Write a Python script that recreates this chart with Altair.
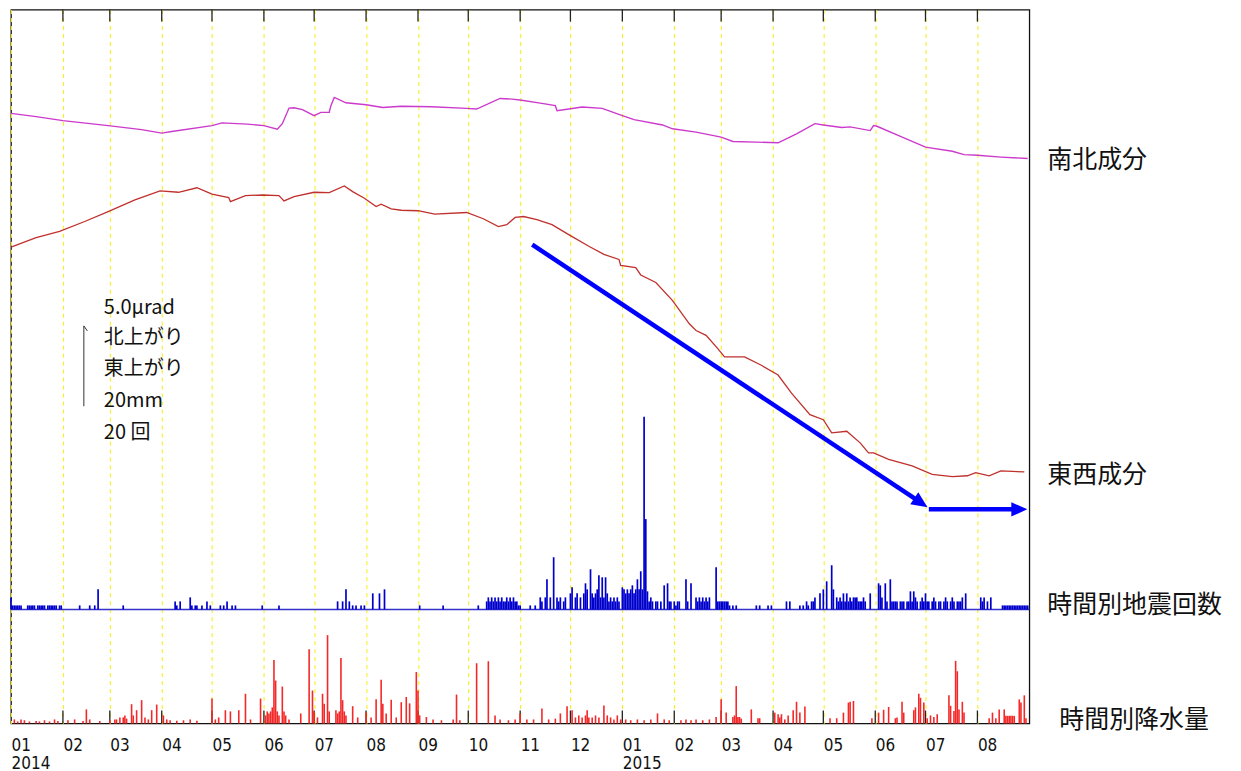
import altair as alt
import pandas as pd

# ---------------- data ----------------
# tilt, relative to 2014-01-01 (micro-radian)
NS_TILT = [
    ("2014-01-01", 0.00), ("2014-01-16", -0.20), ("2014-02-01", -0.45), ("2014-02-28", -0.76),
    ("2014-03-20", -1.01), ("2014-04-01", -1.23), ("2014-04-07", -1.13), ("2014-05-01", -0.76),
    ("2014-05-07", -0.59), ("2014-05-22", -0.67), ("2014-06-01", -0.76), ("2014-06-09", -0.98),
    ("2014-06-12", -0.64), ("2014-06-16", 0.33), ("2014-06-19", 0.35), ("2014-06-24", 0.23),
    ("2014-07-01", -0.14), ("2014-07-05", 0.06), ("2014-07-10", 0.07), ("2014-07-11", 0.48),
    ("2014-07-13", 0.99), ("2014-07-20", 0.66), ("2014-08-01", 0.54), ("2014-08-11", 0.37),
    ("2014-08-22", 0.44), ("2014-09-09", 0.41), ("2014-09-30", 0.31), ("2014-10-06", 0.27),
    ("2014-10-20", 0.93), ("2014-10-27", 0.89), ("2014-11-01", 0.83), ("2014-11-13", 0.64),
    ("2014-11-22", 0.48), ("2014-11-23", 0.17), ("2014-11-30", 0.27), ("2014-12-08", 0.40),
    ("2014-12-20", 0.31), ("2015-01-01", -0.14), ("2015-01-08", -0.39), ("2015-01-25", -0.72),
    ("2015-01-31", -0.96), ("2015-02-14", -1.17), ("2015-03-01", -1.48), ("2015-03-08", -1.75),
    ("2015-03-22", -1.79), ("2015-04-04", -1.83), ("2015-04-15", -1.27), ("2015-04-26", -0.64),
    ("2015-05-01", -0.72), ("2015-05-12", -0.88), ("2015-05-17", -0.84), ("2015-05-29", -1.07),
    ("2015-05-31", -0.76), ("2015-06-02", -0.80), ("2015-06-15", -1.38), ("2015-07-01", -2.10),
    ("2015-07-17", -2.36), ("2015-07-24", -2.57), ("2015-08-01", -2.61), ("2015-08-15", -2.72),
    ("2015-08-31", -2.81),
]
EW_TILT = [
    ("2014-01-01", 0.00), ("2014-01-16", 0.60), ("2014-01-30", 0.99), ("2014-02-14", 1.60),
    ("2014-02-28", 2.22), ("2014-03-16", 2.94), ("2014-03-31", 3.50), ("2014-04-11", 3.42),
    ("2014-04-22", 3.70), ("2014-05-01", 3.30), ("2014-05-11", 3.09), ("2014-05-12", 2.84),
    ("2014-05-21", 3.21), ("2014-05-31", 3.25), ("2014-06-10", 3.21), ("2014-06-13", 2.88),
    ("2014-06-19", 3.15), ("2014-07-01", 3.42), ("2014-07-10", 3.40), ("2014-07-19", 3.81),
    ("2014-07-24", 3.46), ("2014-07-31", 3.05), ("2014-08-07", 2.53), ("2014-08-10", 2.68),
    ("2014-08-16", 2.39), ("2014-08-22", 2.30), ("2014-09-01", 2.27), ("2014-09-11", 2.06),
    ("2014-09-30", 2.16), ("2014-10-10", 1.77), ("2014-10-19", 1.28), ("2014-10-24", 1.40),
    ("2014-10-29", 1.85), ("2014-11-03", 1.91), ("2014-11-11", 1.71), ("2014-11-20", 1.40),
    ("2014-11-30", 0.78), ("2014-12-12", 0.06), ("2014-12-21", -0.45), ("2014-12-30", -0.76),
    ("2014-12-31", -1.13), ("2015-01-09", -1.27), ("2015-01-12", -1.73), ("2015-01-21", -2.20),
    ("2015-01-31", -3.33), ("2015-02-10", -4.77), ("2015-02-14", -5.19), ("2015-02-20", -5.49),
    ("2015-02-27", -6.31), ("2015-03-03", -6.83), ("2015-03-15", -6.83), ("2015-03-25", -7.35),
    ("2015-04-04", -7.96), ("2015-04-12", -9.09), ("2015-04-23", -10.43), ("2015-05-01", -10.74),
    ("2015-05-06", -11.56), ("2015-05-15", -11.46), ("2015-05-23", -12.18), ("2015-05-28", -12.80),
    ("2015-05-31", -12.80), ("2015-06-09", -13.21), ("2015-06-23", -13.62), ("2015-07-05", -14.14),
    ("2015-07-17", -14.28), ("2015-07-26", -14.23), ("2015-07-31", -14.03), ("2015-08-08", -14.23),
    ("2015-08-15", -13.93), ("2015-08-29", -13.99),
]

# earthquakes per hour (peak of each day)
EQ_2014 = [
    ("2014-01-01", 3), ("2014-01-02", 1), ("2014-01-03", 1), ("2014-01-04", 1), ("2014-01-05", 1),
    ("2014-01-06", 1), ("2014-01-07", 1), ("2014-01-11", 1), ("2014-01-12", 1), ("2014-01-13", 1),
    ("2014-01-14", 1), ("2014-01-15", 1), ("2014-01-17", 1), ("2014-01-18", 1), ("2014-01-19", 1),
    ("2014-01-20", 1), ("2014-01-21", 1), ("2014-01-23", 1), ("2014-01-24", 1), ("2014-01-25", 1),
    ("2014-01-26", 1), ("2014-01-27", 1), ("2014-01-28", 1), ("2014-01-30", 1), ("2014-01-31", 1),
    ("2014-02-11", 1), ("2014-02-17", 1), ("2014-02-20", 1), ("2014-02-22", 5), ("2014-03-09", 1),
    ("2014-04-09", 2), ("2014-04-10", 1), ("2014-04-12", 2), ("2014-04-18", 3), ("2014-04-19", 1),
    ("2014-04-21", 1), ("2014-04-22", 1), ("2014-04-25", 1), ("2014-04-28", 2), ("2014-04-30", 1),
    ("2014-05-06", 1), ("2014-05-08", 1), ("2014-05-10", 2), ("2014-05-13", 1), ("2014-05-15", 1),
    ("2014-05-31", 1), ("2014-06-10", 1), ("2014-07-15", 2), ("2014-07-18", 2), ("2014-07-20", 5),
    ("2014-07-22", 2), ("2014-07-24", 1), ("2014-07-26", 1), ("2014-07-29", 1), ("2014-07-31", 1),
    ("2014-08-05", 4), ("2014-08-09", 4), ("2014-08-12", 5), ("2014-09-02", 1), ("2014-09-16", 1),
    ("2014-10-07", 1), ("2014-10-12", 2), ("2014-10-13", 3), ("2014-10-14", 2), ("2014-10-15", 3),
    ("2014-10-16", 2), ("2014-10-17", 3), ("2014-10-18", 2), ("2014-10-19", 3), ("2014-10-20", 2),
    ("2014-10-21", 3), ("2014-10-22", 2), ("2014-10-23", 2), ("2014-10-24", 3), ("2014-10-25", 2),
    ("2014-10-26", 3), ("2014-10-27", 2), ("2014-10-28", 3), ("2014-10-29", 2), ("2014-10-30", 2),
    ("2014-10-31", 1), ("2014-11-01", 1), ("2014-11-07", 1), ("2014-11-10", 1), ("2014-11-13", 3),
    ("2014-11-14", 2), ("2014-11-16", 3), ("2014-11-17", 7.5), ("2014-11-19", 3), ("2014-11-21", 13),
    ("2014-11-23", 3), ("2014-11-24", 2), ("2014-11-25", 3), ("2014-11-27", 2), ("2014-11-28", 3),
    ("2014-12-01", 4), ("2014-12-02", 5.5), ("2014-12-04", 3), ("2014-12-05", 4), ("2014-12-07", 3),
    ("2014-12-09", 4), ("2014-12-10", 6.5), ("2014-12-11", 5), ("2014-12-13", 10), ("2014-12-14", 4),
    ("2014-12-15", 3), ("2014-12-16", 4), ("2014-12-17", 5), ("2014-12-18", 8.5), ("2014-12-19", 3),
    ("2014-12-20", 8), ("2014-12-21", 3), ("2014-12-22", 8), ("2014-12-23", 4), ("2014-12-24", 2),
    ("2014-12-25", 3), ("2014-12-26", 2), ("2014-12-27", 3), ("2014-12-28", 2), ("2014-12-29", 3),
    ("2014-12-30", 2),
]
EQ_2015 = [
    ("2015-01-01", 5.5), ("2015-01-02", 5), ("2015-01-03", 4), ("2015-01-04", 5), ("2015-01-05", 4),
    ("2015-01-06", 5), ("2015-01-07", 6), ("2015-01-08", 4), ("2015-01-09", 5), ("2015-01-10", 7.5),
    ("2015-01-11", 5), ("2015-01-12", 9.5), ("2015-01-13", 5), ("2015-01-14", 48), ("2015-01-15", 22.5),
    ("2015-01-16", 4.5), ("2015-01-17", 2), ("2015-01-18", 3), ("2015-01-19", 2), ("2015-01-21", 2),
    ("2015-01-22", 2), ("2015-01-24", 2), ("2015-01-26", 6), ("2015-01-28", 6.5), ("2015-01-29", 2),
    ("2015-01-30", 2), ("2015-02-01", 2), ("2015-02-02", 1), ("2015-02-03", 2), ("2015-02-04", 2),
    ("2015-02-08", 7.5), ("2015-02-09", 2), ("2015-02-11", 6.5), ("2015-02-14", 3), ("2015-02-15", 2),
    ("2015-02-16", 3), ("2015-02-17", 2), ("2015-02-18", 3), ("2015-02-19", 2), ("2015-02-20", 3),
    ("2015-02-21", 2), ("2015-02-22", 3), ("2015-02-26", 10.5), ("2015-02-27", 2), ("2015-02-28", 2),
    ("2015-03-01", 2), ("2015-03-02", 2), ("2015-03-03", 2), ("2015-03-04", 2), ("2015-03-05", 2),
    ("2015-03-06", 1), ("2015-03-08", 1), ("2015-03-10", 1), ("2015-03-22", 1), ("2015-03-24", 1),
    ("2015-03-29", 1), ("2015-03-31", 1), ("2015-04-09", 2), ("2015-04-11", 2), ("2015-04-17", 1),
    ("2015-04-19", 1), ("2015-04-21", 2), ("2015-04-22", 1), ("2015-04-24", 2), ("2015-04-25", 2),
    ("2015-04-26", 3), ("2015-04-29", 4), ("2015-05-01", 5), ("2015-05-03", 7), ("2015-05-06", 11),
    ("2015-05-07", 5), ("2015-05-09", 3), ("2015-05-10", 2), ("2015-05-11", 3), ("2015-05-12", 2),
    ("2015-05-13", 4), ("2015-05-14", 2), ("2015-05-15", 4), ("2015-05-16", 2), ("2015-05-17", 3),
    ("2015-05-18", 2), ("2015-05-19", 3), ("2015-05-20", 3), ("2015-05-21", 3), ("2015-05-22", 2),
    ("2015-05-23", 2), ("2015-05-24", 2), ("2015-05-25", 3), ("2015-05-26", 2), ("2015-05-29", 4),
    ("2015-06-03", 6.5), ("2015-06-04", 6), ("2015-06-05", 3), ("2015-06-07", 6.5), ("2015-06-08", 2),
    ("2015-06-10", 7.5), ("2015-06-11", 2), ("2015-06-12", 2), ("2015-06-13", 2), ("2015-06-14", 2),
    ("2015-06-16", 2), ("2015-06-17", 2), ("2015-06-18", 2), ("2015-06-20", 2), ("2015-06-21", 2),
    ("2015-06-22", 4.5), ("2015-06-23", 2), ("2015-06-24", 4.5), ("2015-06-25", 3), ("2015-06-26", 2),
    ("2015-06-28", 2), ("2015-06-29", 3), ("2015-06-30", 2), ("2015-07-01", 4), ("2015-07-02", 2),
    ("2015-07-03", 2), ("2015-07-05", 2), ("2015-07-06", 3), ("2015-07-07", 2), ("2015-07-09", 2),
    ("2015-07-10", 2), ("2015-07-12", 2), ("2015-07-13", 3), ("2015-07-14", 2), ("2015-07-16", 2),
    ("2015-07-17", 3), ("2015-07-18", 2), ("2015-07-20", 2), ("2015-07-21", 2), ("2015-07-22", 2),
    ("2015-07-23", 3), ("2015-07-25", 4), ("2015-08-03", 3), ("2015-08-04", 2), ("2015-08-05", 3),
    ("2015-08-07", 2), ("2015-08-09", 3), ("2015-08-16", 1), ("2015-08-17", 1), ("2015-08-18", 1),
    ("2015-08-19", 1), ("2015-08-20", 1), ("2015-08-21", 1), ("2015-08-22", 1), ("2015-08-23", 1),
    ("2015-08-24", 1), ("2015-08-25", 1), ("2015-08-26", 1), ("2015-08-27", 1), ("2015-08-28", 1),
    ("2015-08-29", 1), ("2015-08-30", 1), ("2015-08-31", 1),
]

# hourly rainfall (mm, peak of each day)
RAIN_2014 = [
    ("2014-01-03", 1), ("2014-01-05", 0.5), ("2014-01-07", 1), ("2014-01-09", 0.8), ("2014-01-12", 0.5),
    ("2014-01-16", 0.6), ("2014-01-18", 0.5), ("2014-01-21", 0.8), ("2014-01-24", 0.5), ("2014-01-27", 1),
    ("2014-01-29", 0.6), ("2014-02-04", 0.8), ("2014-02-08", 1), ("2014-02-13", 0.6), ("2014-02-15", 3.5),
    ("2014-02-17", 1), ("2014-02-23", 0.6), ("2014-03-01", 0.8), ("2014-03-04", 1), ("2014-03-05", 1),
    ("2014-03-07", 1.5), ("2014-03-09", 1.5), ("2014-03-10", 2), ("2014-03-11", 1.2), ("2014-03-14", 4.8),
    ("2014-03-15", 2), ("2014-03-17", 3.3), ("2014-03-20", 5.8), ("2014-03-22", 1.5), ("2014-03-24", 1),
    ("2014-03-26", 3.3), ("2014-03-29", 4.7), ("2014-04-02", 2), ("2014-04-04", 1), ("2014-04-06", 0.8),
    ("2014-04-10", 0.7), ("2014-04-14", 0.8), ("2014-04-18", 1), ("2014-04-22", 0.7), ("2014-05-01", 6.2),
    ("2014-05-03", 1), ("2014-05-05", 1.5), ("2014-05-09", 3.3), ("2014-05-12", 3), ("2014-05-17", 3.3),
    ("2014-05-21", 7.4), ("2014-05-24", 1), ("2014-05-30", 6.2), ("2014-06-02", 2), ("2014-06-03", 3),
    ("2014-06-04", 2.5), ("2014-06-05", 3), ("2014-06-06", 4), ("2014-06-07", 15.8), ("2014-06-08", 10.7),
    ("2014-06-09", 3), ("2014-06-10", 2), ("2014-06-12", 9.2), ("2014-06-13", 3), ("2014-06-14", 2),
    ("2014-06-16", 1), ("2014-06-23", 2.5), ("2014-06-28", 18.5), ("2014-06-30", 8.2), ("2014-07-01", 3),
    ("2014-07-03", 1.5), ("2014-07-06", 7.4), ("2014-07-07", 4.9), ("2014-07-09", 22), ("2014-07-10", 3),
    ("2014-07-14", 3.3), ("2014-07-15", 2.5), ("2014-07-16", 3), ("2014-07-17", 16.3), ("2014-07-18", 5.8),
    ("2014-07-19", 3), ("2014-07-20", 2), ("2014-07-24", 4.3), ("2014-07-27", 1.5), ("2014-08-01", 2.8),
    ("2014-08-04", 1.5), ("2014-08-07", 6), ("2014-08-10", 10.9), ("2014-08-11", 4.9), ("2014-08-13", 2.5),
    ("2014-08-16", 5.9), ("2014-08-19", 1.5), ("2014-08-22", 5.3), ("2014-08-25", 6.6), ("2014-08-27", 5),
    ("2014-08-31", 12.8), ("2014-09-01", 8.2), ("2014-09-02", 2), ("2014-09-06", 1.6), ("2014-09-10", 1),
    ("2014-09-15", 0.8), ("2014-09-22", 1), ("2014-09-24", 7.2), ("2014-09-26", 0.8), ("2014-10-06", 15),
    ("2014-10-13", 15.5), ("2014-10-17", 2), ("2014-10-20", 1), ("2014-10-25", 0.8), ("2014-10-29", 1),
    ("2014-11-01", 2.5), ("2014-11-05", 1), ("2014-11-09", 1), ("2014-11-14", 3.7), ("2014-11-18", 1),
    ("2014-11-22", 1.2), ("2014-11-25", 2.5), ("2014-11-29", 4.3), ("2014-12-02", 3.3), ("2014-12-04", 1.5),
    ("2014-12-06", 2), ("2014-12-08", 1.5), ("2014-12-10", 2), ("2014-12-11", 3.3), ("2014-12-12", 1.5),
    ("2014-12-14", 1.5), ("2014-12-16", 2), ("2014-12-18", 1.5), ("2014-12-21", 4.5), ("2014-12-23", 2),
    ("2014-12-25", 1.5), ("2014-12-27", 1), ("2014-12-29", 2), ("2014-12-31", 1),
]
RAIN_2015 = [
    ("2015-01-03", 1), ("2015-01-06", 0.8), ("2015-01-10", 1), ("2015-01-14", 0.8), ("2015-01-18", 1),
    ("2015-01-22", 2.5), ("2015-01-26", 1), ("2015-01-29", 0.8), ("2015-02-05", 0.8), ("2015-02-08", 1),
    ("2015-02-11", 0.8), ("2015-02-14", 1), ("2015-02-18", 0.8), ("2015-02-22", 1), ("2015-02-26", 1.6),
    ("2015-03-01", 6), ("2015-03-04", 2.7), ("2015-03-08", 1.6), ("2015-03-09", 2), ("2015-03-10", 9.3),
    ("2015-03-11", 1.6), ("2015-03-12", 1.6), ("2015-03-13", 1.2), ("2015-03-19", 3.5), ("2015-03-23", 1.3),
    ("2015-03-24", 1.3), ("2015-04-02", 2.7), ("2015-04-04", 2.3), ("2015-04-05", 1.5), ("2015-04-06", 2.3),
    ("2015-04-08", 1), ("2015-04-10", 2), ("2015-04-13", 3.3), ("2015-04-15", 5.4), ("2015-04-17", 2.7),
    ("2015-04-20", 4.2), ("2015-05-05", 1.3), ("2015-05-09", 1.3), ("2015-05-13", 2.7), ("2015-05-16", 5.2),
    ("2015-05-17", 5.4), ("2015-05-19", 5.6), ("2015-05-30", 1.3), ("2015-06-03", 2.7), ("2015-06-06", 3.4),
    ("2015-06-09", 4.1), ("2015-06-13", 1.3), ("2015-06-14", 1.5), ("2015-06-17", 5.4), ("2015-06-18", 2.7),
    ("2015-06-24", 3.3), ("2015-06-25", 4), ("2015-06-27", 7.4), ("2015-06-28", 6.4), ("2015-06-30", 5.2),
    ("2015-07-02", 1.3), ("2015-07-04", 2), ("2015-07-06", 1.6), ("2015-07-08", 2.3), ("2015-07-15", 7),
    ("2015-07-16", 4.4), ("2015-07-18", 3.1), ("2015-07-19", 15.6), ("2015-07-20", 13), ("2015-07-21", 3.5),
    ("2015-07-23", 5.4), ("2015-07-24", 2.7), ("2015-08-08", 1.3), ("2015-08-10", 2.7), ("2015-08-12", 1.3),
    ("2015-08-14", 3.5), ("2015-08-17", 3.5), ("2015-08-18", 1.9), ("2015-08-19", 1.9), ("2015-08-20", 1.9),
    ("2015-08-21", 1.9), ("2015-08-22", 1.9), ("2015-08-23", 1.9), ("2015-08-26", 6), ("2015-08-27", 5.2),
    ("2015-08-29", 7), ("2015-08-30", 1.3),
]

# trend arrow drawn on the 東西成分 trace (tilt units)
TREND_LINE = [("2014-11-08T05:00", 29.81), ("2015-06-28T12:00", 13.73)]
TREND_HEAD = ("2015-07-02T05:00", 13.46)
FLAT_LINE = [("2015-07-03T00:00", 13.33), ("2015-08-26T00:00", 13.33)]
FLAT_HEAD = ("2015-08-30T19:00", 13.33)
# 5.0 μrad / 20 mm / 20 counts scale bar
SCALE_BAR = [("2014-02-13T12:00", 19.75), ("2014-02-13T12:00", 24.75), ("2014-02-15T14:00", 24.44)]

SCALE_TEXT = ["5.0μrad", "北上がり", "東上がり", "20mm", "20 回"]
RIGHT_LABELS = ["南北成分", "東西成分", "時間別地震回数", "時間別降水量"]

# ---------------- chart ----------------
W, H = 1020, 715
NS_OFFSET = 37.98
EW_OFFSET = 29.65
TILT_DOMAIN = [0, 44.44]        # μrad over the whole frame
EQ_DOMAIN = [-28.40, 149.38]    # counts
RAIN_DOMAIN = [0, 177.78]       # mm

FONT_JP = "Noto Sans CJK JP"


def frame(pairs, vname="v", offset=0.0):
    df = pd.DataFrame(pairs, columns=["date", vname])
    df["date"] = pd.to_datetime(df["date"])
    df[vname] = df[vname] + offset
    df["i"] = range(len(df))
    return df


months = pd.date_range("2014-01-01", "2015-09-01", freq="MS")
axis_values = [alt.DateTime(year=d.year, month=d.month, date=1) for d in months]
inner_months = pd.DataFrame({"date": months[1:-1]})

x_scale = alt.Scale(domain=[alt.DateTime(year=2014, month=1, date=1),
                            alt.DateTime(year=2015, month=9, date=1)])
x_axis = alt.Axis(
    values=axis_values[:-1],
    labelExpr="month(datum.value) == 0 ? [timeFormat(datum.value, '%m'), timeFormat(datum.value, '%Y')] : timeFormat(datum.value, '%m')",
    labelAlign="left", labelBaseline="top", labelPadding=14, labelFontSize=17,
    labelFont="Liberation Sans Narrow, DejaVu Sans Condensed, sans-serif", labelColor="#111111",
    labelLineHeight=18, labelOverlap=False, labelFlush=False, labelBound=False,
    ticks=False, domain=False, grid=True, gridColor="#F5EE10", gridDash=[4, 4], gridWidth=1,
    title=None,
)


def X(field="date"):
    return alt.X(f"{field}:T", scale=x_scale, axis=x_axis, title=None)


tilt_scale = alt.Scale(domain=TILT_DOMAIN, nice=False, zero=False)
eq_scale = alt.Scale(domain=EQ_DOMAIN, nice=False, zero=False)
rain_scale = alt.Scale(domain=RAIN_DOMAIN, nice=False, zero=False)

ns_df = frame(NS_TILT, offset=NS_OFFSET)
ew_df = frame(EW_TILT, offset=EW_OFFSET)
eq_df = frame(EQ_2014 + EQ_2015, "n")
rain_df = frame(RAIN_2014 + RAIN_2015, "mm")

# month ticks at top and bottom of the frame
top_ticks = alt.Chart(inner_months).mark_rule(color="#222222", strokeWidth=1.3).encode(
    x=X(), y=alt.value(0), y2=alt.value(12))
bottom_ticks = alt.Chart(inner_months).mark_rule(color="#222222", strokeWidth=1.3).encode(
    x=X(), y=alt.value(H - 13), y2=alt.value(H))

rain = alt.Chart(rain_df).mark_rule(color="#F42828", strokeWidth=1.6).encode(
    x=X(), y=alt.Y("mm:Q", scale=rain_scale, axis=None), y2=alt.datum(0))

eq_base = alt.Chart(pd.DataFrame({"z": [0]})).mark_rule(color="#3333CC", strokeWidth=1.5).encode(
    y=alt.Y("z:Q", scale=eq_scale, axis=None))
eq = alt.Chart(eq_df).mark_rule(color="#0000CC", strokeWidth=1.7).encode(
    x=X(), y=alt.Y("n:Q", scale=eq_scale, axis=None), y2=alt.datum(0))

ns_line = alt.Chart(ns_df).mark_line(color="#CC3ACC", strokeWidth=1.4).encode(
    x=X(), y=alt.Y("v:Q", scale=tilt_scale, axis=None))
ew_line = alt.Chart(ew_df).mark_line(color="#C0302C", strokeWidth=1.3).encode(
    x=X(), y=alt.Y("v:Q", scale=tilt_scale, axis=None))

ARROW = "M0,0L-2,-0.9L-2,0.9Z"
trend = alt.Chart(frame(TREND_LINE)).mark_line(color="#0000FF", strokeWidth=4.5).encode(
    x=X(), y=alt.Y("v:Q", scale=tilt_scale, axis=None))
trend_head = alt.Chart(frame([TREND_HEAD])).mark_point(
    shape=ARROW, filled=True, color="#0000FF", opacity=1, size=256, angle=34).encode(
    x=X(), y=alt.Y("v:Q", scale=tilt_scale, axis=None))
flat = alt.Chart(frame(FLAT_LINE)).mark_line(color="#0000FF", strokeWidth=4.5).encode(
    x=X(), y=alt.Y("v:Q", scale=tilt_scale, axis=None))
flat_head = alt.Chart(frame([FLAT_HEAD])).mark_point(
    shape=ARROW, filled=True, color="#0000FF", opacity=1, size=256, angle=0).encode(
    x=X(), y=alt.Y("v:Q", scale=tilt_scale, axis=None))

scale_bar = alt.Chart(frame(SCALE_BAR)).mark_line(color="#333333", strokeWidth=1).encode(
    x=X(), y=alt.Y("v:Q", scale=tilt_scale, axis=None), order="i:Q")

one = pd.DataFrame({"a": [0]})
scale_texts = [
    alt.Chart(one).mark_text(text=t, font=FONT_JP, fontSize=20, align="left", baseline="middle",
                             color="#111111").encode(x=alt.value(93), y=alt.value(yy))
    for t, yy in zip(SCALE_TEXT, [299, 329, 360, 392, 424])
]
right_texts = [
    alt.Chart(one).mark_text(text=t, font=FONT_JP, fontSize=25, align="left", baseline="middle",
                             color="#111111").encode(x=alt.value(xx), y=alt.value(yy))
    for t, xx, yy in zip(RIGHT_LABELS, [1038, 1038, 1038, 1050], [151, 466, 596, 712])
]

chart = alt.layer(
    top_ticks, bottom_ticks, rain, eq_base, eq, ns_line, ew_line,
    trend, trend_head, flat, flat_head, scale_bar, *scale_texts, *right_texts,
).resolve_scale(y="independent").properties(
    width=W, height=H, padding={"left": 0, "top": 0, "right": 10, "bottom": 0},
    background="white",
).configure_view(stroke="#111111", strokeWidth=1.3)

chart.save("out.html", embed_options={"renderer": "svg", "actions": False})
